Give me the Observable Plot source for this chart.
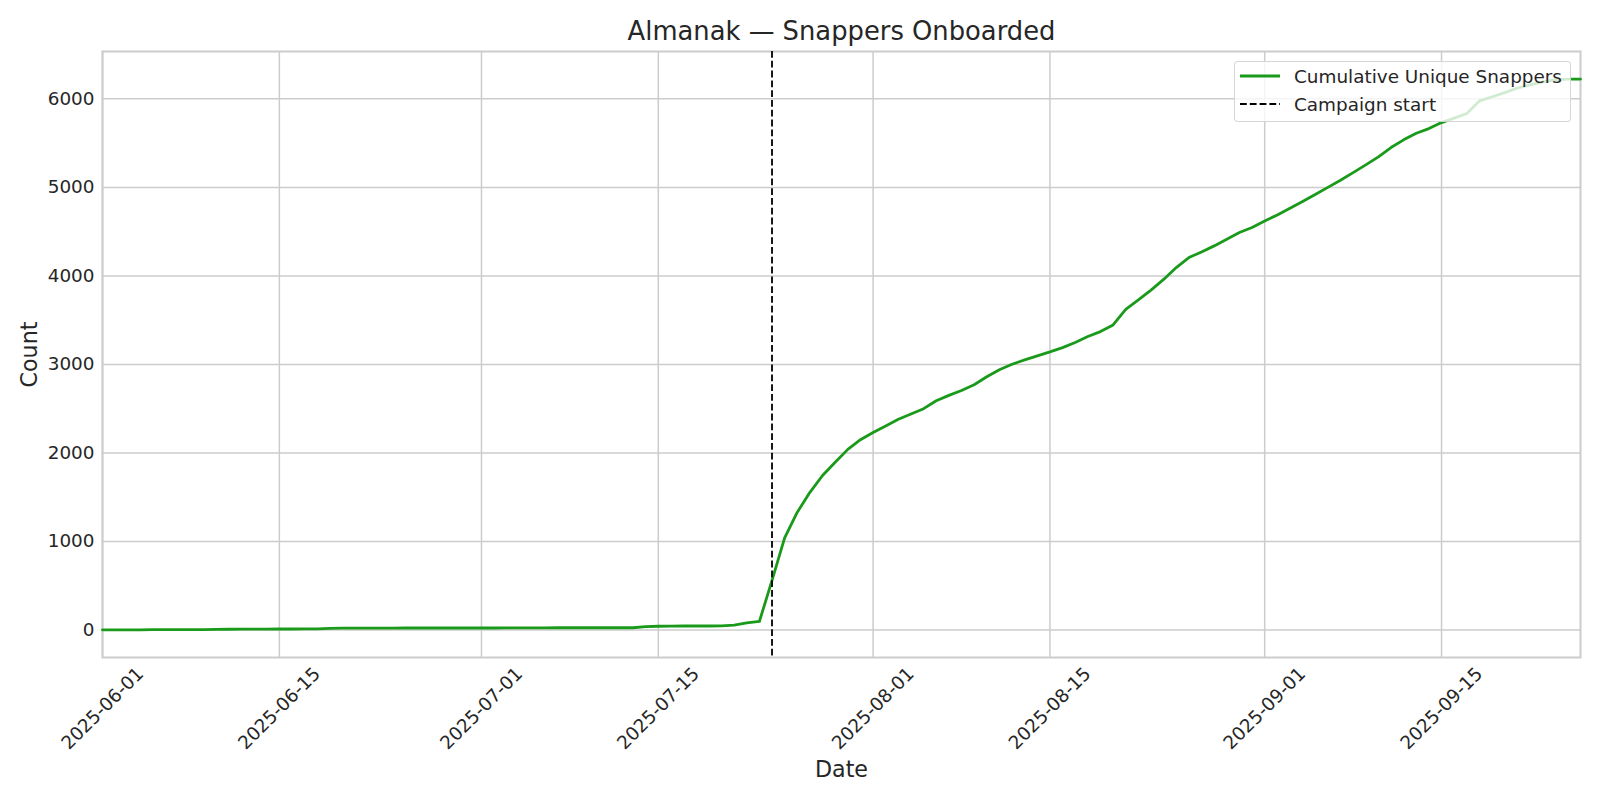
<!DOCTYPE html>
<html>
<head>
<meta charset="utf-8">
<script src="https://cdn.jsdelivr.net/npm/d3@7"></script>
<script src="https://cdn.jsdelivr.net/npm/@observablehq/plot@0.6"></script>
<style>
  html, body { margin: 0; padding: 0; background: #fff; }
  #wrap { position: relative; width: 1600px; height: 800px; font-family: "DejaVu Sans", sans-serif; }
  #legend { position: absolute; left: 1234px; top: 61px; width: 335px; height: 59px;
    border: 1.4px solid rgba(204,204,204,0.8); border-radius: 4px; background: rgba(255,255,255,0.8); }
  .row { position: absolute; left: 0; height: 28px; display: flex; align-items: center; }
  .row span { position: absolute; left: 59px; white-space: nowrap; font-size: 18.4px; color: #262626; }
  .row svg { position: absolute; left: 5px; }
</style>
</head>
<body>
<div id="wrap"></div>
<script>
// ---- data ----
const startDate = "2025-06-01";
const endDate = "2025-09-26";
const snappers = [
  // June
  0,1,2,2,3,3,4,5,5,6,8,9,10,10,11,11,12,13,18,20,20,20,21,21,22,22,22,22,22,22,
  // July
  22,22,24,24,24,24,25,25,25,25,25,25,25,38,42,44,45,45,45,46,55,80,96,560,1040,1330,1555,1745,1895,2040,2150,
  // August
  2230,2305,2380,2440,2500,2590,2650,2705,2770,2860,2940,3002,3051,3096,3141,3190,3247,3315,3371,3446,3623,3729,3840,3960,4094,4207,4271,4339,4414,4490,4546,
  // September
  4621,4689,4765,4840,4920,5000,5081,5167,5254,5345,5450,5537,5612,5664,5732,5782,5834,5977,6023,6071,6121,6158,6192,6215,6222,6224
];
const campaignStart = "2025-07-24";
const xTickLabels = ["2025-06-01","2025-06-15","2025-07-01","2025-07-15","2025-08-01","2025-08-15","2025-09-01","2025-09-15"];
const yTicks = [0,1000,2000,3000,4000,5000,6000];
const yDomain = [-311, 6535];
const titleText = "Almanak — Snappers Onboarded";
const seriesLabel = "Cumulative Unique Snappers";
const campaignLabel = "Campaign start";

// ---- build ----
const parse = d3.utcParse("%Y-%m-%d");
const t0 = parse(startDate);
const rows = snappers.map((v, i) => ({date: d3.utcDay.offset(t0, i), value: v}));
const xTicks = xTickLabels.map(parse);
const fmt = d3.utcFormat("%Y-%m-%d");

const GREEN = "#1a9a1a";
const TXT = "#262626";
const GRID = "#cccccc";

const chart = Plot.plot({
  width: 1600,
  height: 800,
  marginLeft: 102,
  marginRight: 20,
  marginTop: 51,
  marginBottom: 143,
  style: {fontFamily: "DejaVu Sans, sans-serif", background: "transparent", overflow: "visible"},
  x: {type: "utc", domain: [parse(startDate), parse(endDate)], axis: null},
  y: {domain: yDomain, axis: null},
  marks: [
    Plot.gridX(xTicks, {stroke: GRID, strokeOpacity: 1, strokeWidth: 1.5}),
    Plot.gridY(yTicks, {stroke: GRID, strokeOpacity: 1, strokeWidth: 1.5}),
    Plot.frame({stroke: GRID, strokeWidth: 2}),
    Plot.lineY(rows, {x: "date", y: "value", stroke: GREEN, strokeWidth: 2.8, strokeLinejoin: "round"}),
    Plot.ruleX([parse(campaignStart)], {stroke: "#000", strokeWidth: 1.8, strokeDasharray: "6.8,3"}),
    Plot.axisY(yTicks, {tickSize: 0, tickPadding: 8, fontSize: 18.4, fill: TXT, tickFormat: d => String(d), label: null}),
    Plot.text(xTicks, {x: d => d, text: d => fmt(d), frameAnchor: "bottom", dy: 51, rotate: -45,
      fontSize: 18.4, fill: TXT, textAnchor: "middle", lineAnchor: "middle"}),
    Plot.text([titleText], {frameAnchor: "top", dy: -20, fontSize: 25.8, fill: TXT, textAnchor: "middle", lineAnchor: "middle"}),
    Plot.text(["Count"], {frameAnchor: "left", dx: -73, rotate: -90, fontSize: 22.2, fill: TXT, textAnchor: "middle", lineAnchor: "middle"}),
    Plot.text(["Date"], {frameAnchor: "bottom", dy: 112, fontSize: 22.2, fill: TXT, textAnchor: "middle", lineAnchor: "middle"})
  ]
});

const wrap = document.getElementById("wrap");
wrap.appendChild(chart);

// legend overlay
const legend = document.createElement("div");
legend.id = "legend";
legend.innerHTML = `
  <div class="row" style="top:0px;width:100%">
    <svg width="40" height="6"><line x1="0" y1="3" x2="40" y2="3" stroke="${GREEN}" stroke-width="2.8"/></svg>
    <span>${seriesLabel}</span>
  </div>
  <div class="row" style="top:28px;width:100%">
    <svg width="40" height="6"><line x1="0" y1="3" x2="40" y2="3" stroke="#000" stroke-width="1.8" stroke-dasharray="6.8,3"/></svg>
    <span>${campaignLabel}</span>
  </div>`;
wrap.appendChild(legend);
</script>
</body>
</html>
